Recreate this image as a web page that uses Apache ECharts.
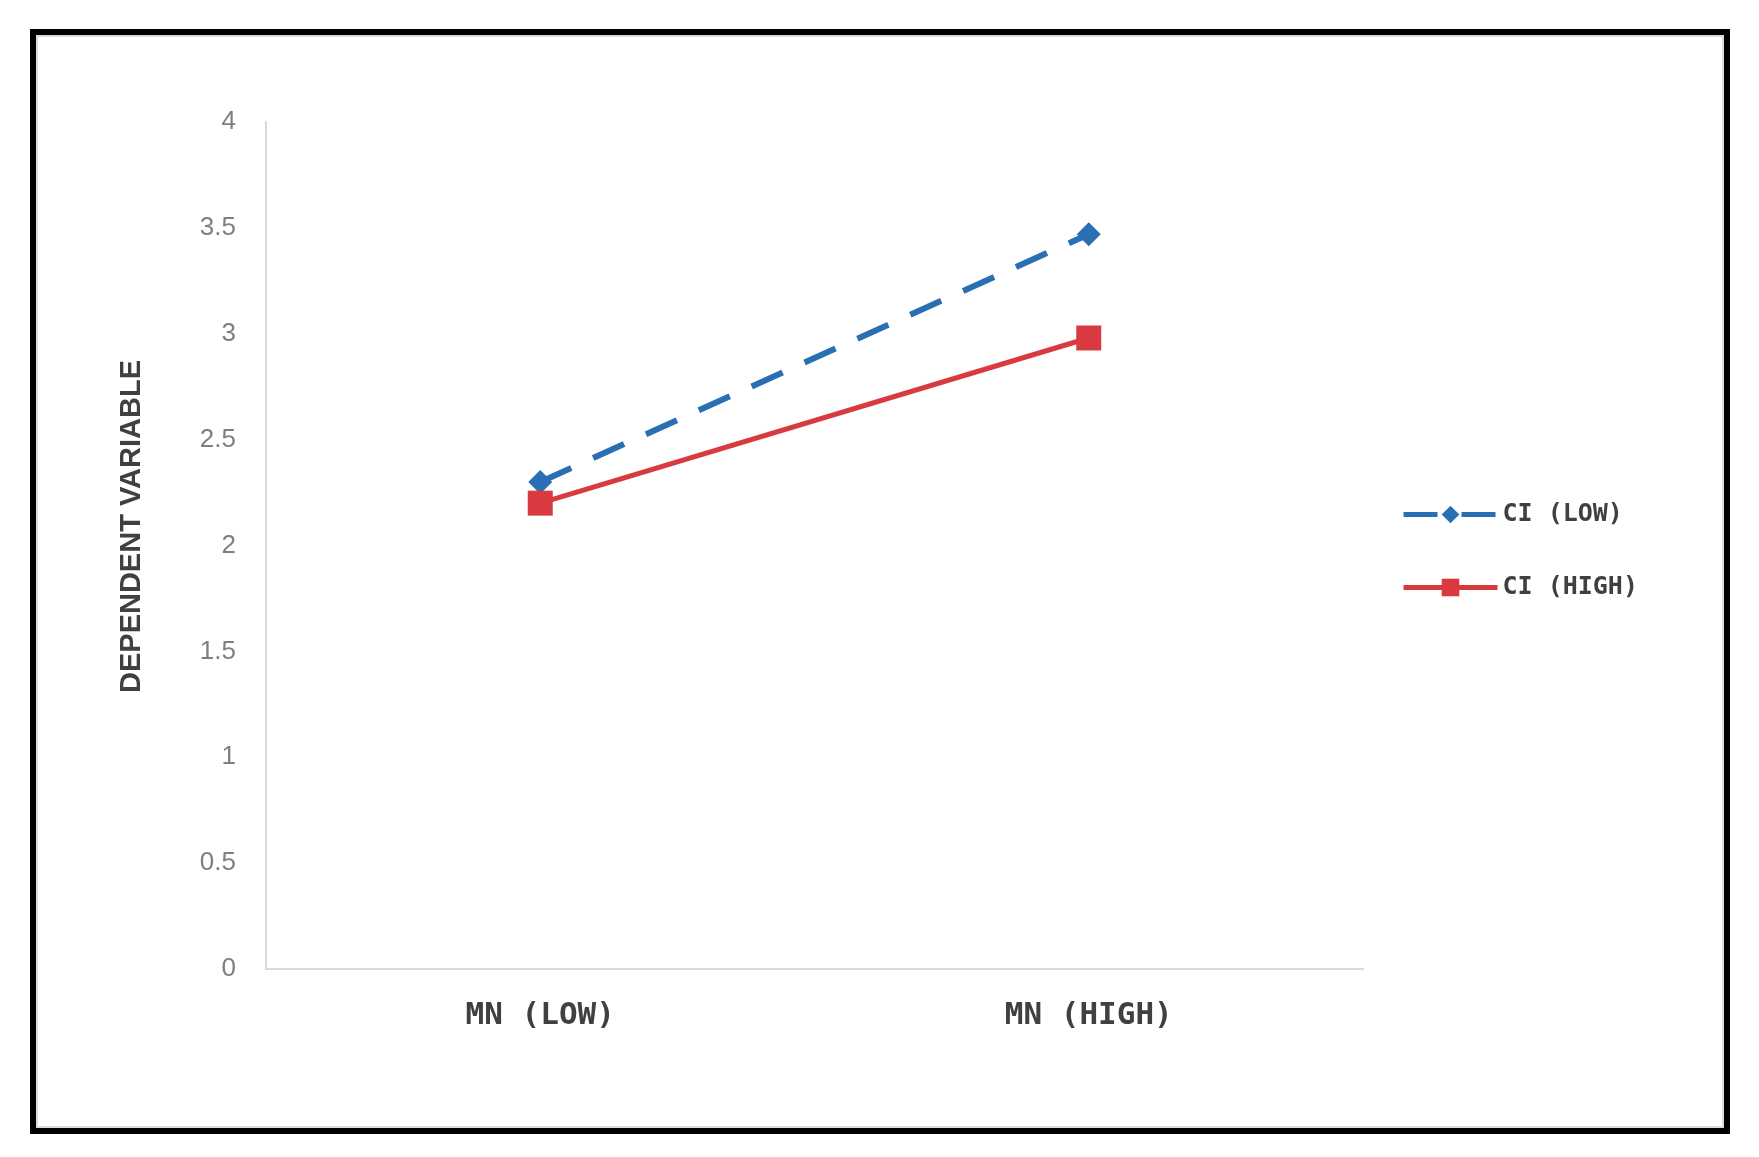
<!DOCTYPE html>
<html>
<head>
<meta charset="utf-8">
<script src="https://cdn.jsdelivr.net/npm/echarts@6/dist/echarts.min.js"></script>
<style>
html,body{margin:0;padding:0;background:#fff;}
#c{width:1759px;height:1157px;}
</style>
</head>
<body>
<div id="c"></div>
<script>
const categories = ['MN (LOW)', 'MN (HIGH)'];
const seriesNames = ['CI (LOW)', 'CI (HIGH)'];
const ciLow = [2.3, 3.47];
const ciHigh = [2.2, 2.98];
const yTicks = { min: 0, max: 4, interval: 0.5 };
const yAxisTitle = 'DEPENDENT VARIABLE';

const chart = echarts.init(document.getElementById('c'));
chart.setOption({
  backgroundColor: '#ffffff',
  animation: false,
  graphic: [
    { type: 'rect', shape: { x: 33, y: 32, width: 1694, height: 1099 },
      style: { fill: 'none', stroke: '#000', lineWidth: 6 }, z: 10 },
    { type: 'rect', shape: { x: 37, y: 36, width: 1686, height: 1091 },
      style: { fill: 'none', stroke: '#dcdcdc', lineWidth: 2 }, z: 10 }
  ],
  grid: { left: 266, right: 396, top: 122, bottom: 188 },
  legend: {
    orient: 'vertical',
    left: 1396,
    top: 497,
    itemWidth: 94,
    itemHeight: 22,
    itemGap: 48,
    lineStyle: { width: 5 },
    textStyle: { fontFamily: 'DejaVu Sans Mono', fontWeight: 'bold', fontSize: 25, color: '#404040' },
    data: seriesNames
  },
  xAxis: {
    type: 'category',
    data: categories,
    boundaryGap: true,
    axisLine: { lineStyle: { color: '#d9d9d9', width: 2 } },
    axisTick: { show: false },
    axisLabel: { margin: 31, fontFamily: 'DejaVu Sans Mono', fontWeight: 'bold', fontSize: 31, color: '#404040' },
    splitLine: { show: false }
  },
  yAxis: {
    type: 'value',
    min: yTicks.min, max: yTicks.max, interval: yTicks.interval,
    name: yAxisTitle,
    nameLocation: 'middle',
    nameGap: 120,
    nameRotate: 90,
    nameTextStyle: { fontFamily: 'Liberation Sans', fontWeight: 'bold', fontSize: 29, color: '#404040', padding: [0, 0, 0, 38] },
    axisLine: { show: true, lineStyle: { color: '#d9d9d9', width: 2 } },
    axisTick: { show: false },
    splitLine: { show: false },
    axisLabel: { margin: 30, fontFamily: 'Liberation Sans', fontSize: 26, color: '#7f7f7f' }
  },
  series: [
    {
      name: seriesNames[0], type: 'line', data: ciLow,
      symbol: 'diamond', symbolSize: 24,
      itemStyle: { color: '#2a6fb3' },
      lineStyle: { color: '#2a6fb3', width: 6, type: [34, 24] },
      z: 3
    },
    {
      name: seriesNames[1], type: 'line', data: ciHigh,
      symbol: 'rect', symbolSize: 25,
      itemStyle: { color: '#d93a40' },
      lineStyle: { color: '#d93a40', width: 5 },
      z: 4
    }
  ]
});
</script>
</body>
</html>
